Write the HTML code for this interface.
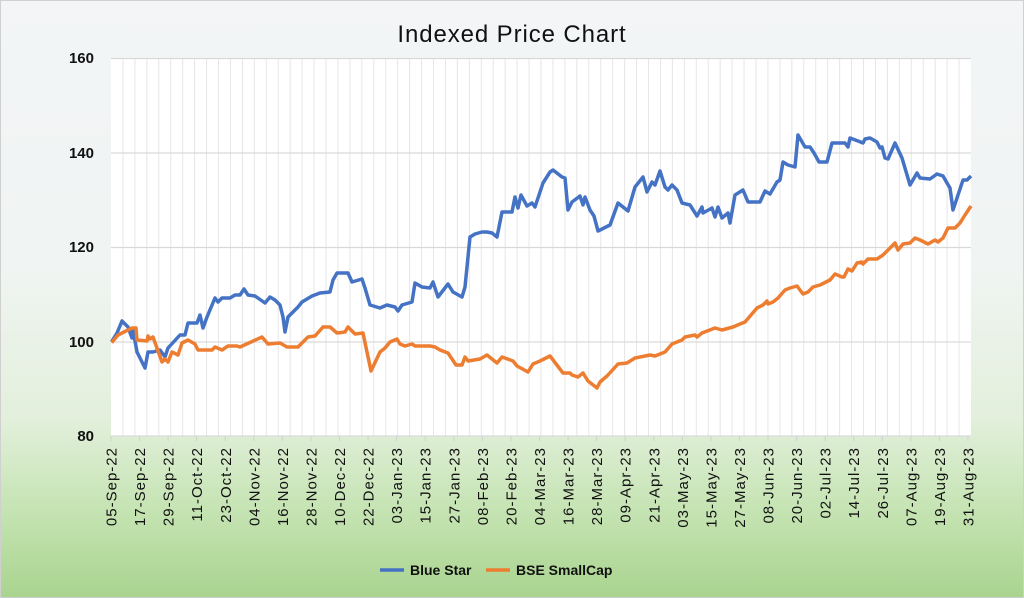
<!DOCTYPE html>
<html><head><meta charset="utf-8"><style>
html,body{margin:0;padding:0;}
body{width:1024px;height:598px;overflow:hidden;font-family:"Liberation Sans",sans-serif;}
.bg{position:absolute;left:0;top:0;width:1022px;height:596px;border:1px solid #d0d0d0;background:linear-gradient(#f3f5f7 0%,#f0f4f2 45%,#e3f0dc 70%,#c6e4b4 85%,#a9d48f 100%);}
</style></head><body><div class="bg"></div>
<svg width="1024" height="598" style="position:absolute;left:0;top:0" font-family="Liberation Sans, sans-serif">
<text x="512" y="42" font-size="24" letter-spacing="0.9" text-anchor="middle" fill="#111">Indexed Price Chart</text>
<rect x="111" y="58" width="860" height="378" fill="#fff"/>
<g id="vg" stroke="#e6e6e6" stroke-width="1"></g>
<g stroke="#d9d9d9" stroke-width="1.3">
<line x1="111" y1="58.5" x2="971" y2="58.5"/><line x1="111" y1="153" x2="971" y2="153"/><line x1="111" y1="247.5" x2="971" y2="247.5"/><line x1="111" y1="342" x2="971" y2="342"/><line x1="111" y1="436" x2="971" y2="436"/>
</g>
<g font-size="15" font-weight="bold" text-anchor="end" fill="#111"><text x="94" y="63">160</text><text x="94" y="158">140</text><text x="94" y="252">120</text><text x="94" y="347">100</text><text x="94" y="441">80</text></g>
<g id="xl" font-size="15" letter-spacing="1" fill="#111"></g>
<polyline fill="none" stroke="#4472c4" stroke-width="3.5" stroke-linejoin="round" points="111.7,341.7 117,333 122,321 128,327 132,338 133,330 137,352 145,368 148,352 153,352 160,350 165,357 168,348 180,335 185,335 188,323 197,323 200,315 203,328 207,317 215,298 218,302 222,298 230,298 235,295 240,295 244,289 248,295 255,296 265,303 270,297 275,300 280,305 283,317 285,332 288,317 298,307 302,302 312,296 320,293 330,292 333,280 337,273 348,273 352,282 362,279 365,288 370,305 380,308 387,305 395,307 398,311 402,305 412,302 415,283 422,287 430,288 433,282 438,297 448,284 453,292 462,297 465,287 470,237 475,234 482,232 487,232 492,233 497,237 502,212 512,212 515,197 518,208 521,195 527,206 532,203 535,207 543,183 550,172 553,170 562,177 565,178 568,210 572,202 580,196 583,205 585,197 590,210 594,216 598,231 610,225 618,203 628,211 635,187 643,177 647,192 652,182 655,185 660,171 665,187 668,190 672,185 677,190 682,203 690,205 697,216 702,207 703,213 712,208 715,217 718,207 722,218 728,213 730,223 735,195 743,190 748,202 760,202 765,191 770,194 777,182 780,180 783,162 788,165 795,167 798,135 805,147 810,147 814,153 819,162 827,162 832,143 845,143 848,147 850,138 858,141 863,143 865,139 870,138 877,142 880,148 882,147 885,158 888,159 895,143 902,158 910,185 917,173 920,178 930,179 937,174 943,176 947,183 950,188 953,210 963,180 967,180 971,176"/>
<polyline fill="none" stroke="#ed7d31" stroke-width="3.5" stroke-linejoin="round" points="111.7,342.7 118,335 132,328 136,328 137,340 147,341 148,336 150,339 153,337 162,362 165,359 168,362 172,352 178,355 182,343 188,340 195,344 198,350 212,350 215,347 222,350 228,346 237,346 240,347 262,337 268,344 280,343 287,347 298,347 308,337 315,336 323,327 330,327 337,333 345,332 348,327 355,334 363,333 371,371 380,352 385,348 390,342 397,339 400,344 405,346 412,344 415,346 430,346 435,347 440,350 448,353 456,365 462,365 465,357 468,361 480,359 487,355 497,363 502,357 513,361 517,366 528,372 533,364 540,361 550,356 563,373 567,373 570,373 572,375 578,377 583,373 588,381 597,388 600,382 607,376 618,364 627,363 635,358 650,355 655,356 665,352 672,344 682,340 685,337 695,335 697,337 702,333 715,328 722,330 733,327 740,324 745,322 757,308 763,305 767,301 768,304 773,302 778,298 785,290 790,288 797,286 803,294 808,292 813,287 820,285 830,280 835,274 842,277 844,277 848,269 852,271 857,263 862,262 863,264 868,259 877,259 883,255 888,250 895,243 898,250 903,244 910,243 915,238 920,240 928,244 935,240 938,242 943,238 948,228 955,228 960,223 965,215 971,206"/>
<line x1="380" y1="570" x2="404" y2="570" stroke="#4472c4" stroke-width="3.5"/>
<text x="410" y="575" font-size="14" font-weight="bold" fill="#111">Blue Star</text>
<line x1="486" y1="570" x2="510" y2="570" stroke="#ed7d31" stroke-width="3.5"/>
<text x="516" y="575" font-size="14" font-weight="bold" fill="#111">BSE SmallCap</text>
</svg>
<script>
var ns="http://www.w3.org/2000/svg",vg=document.getElementById("vg");
for(var i=1;i<72;i++){var x=111+i*860/72;var l=document.createElementNS(ns,"line");l.setAttribute("x1",x);l.setAttribute("x2",x);l.setAttribute("y1",58);l.setAttribute("y2",436);vg.appendChild(l);}
var labs=["05-Sep-22","17-Sep-22","29-Sep-22","11-Oct-22","23-Oct-22","04-Nov-22","16-Nov-22","28-Nov-22","10-Dec-22","22-Dec-22","03-Jan-23","15-Jan-23","27-Jan-23","08-Feb-23","20-Feb-23","04-Mar-23","16-Mar-23","28-Mar-23","09-Apr-23","21-Apr-23","03-May-23","15-May-23","27-May-23","08-Jun-23","20-Jun-23","02-Jul-23","14-Jul-23","26-Jul-23","07-Aug-23","19-Aug-23","31-Aug-23"];
var xl=document.getElementById("xl");
labs.forEach(function(s,i){var x=111+i*857/30;var t=document.createElementNS(ns,"text");t.setAttribute("transform","translate("+(x+5.5)+",447) rotate(-90)");t.setAttribute("text-anchor","end");t.textContent=s;xl.appendChild(t);
var k=document.createElementNS(ns,"line");k.setAttribute("x1",x);k.setAttribute("x2",x);k.setAttribute("y1",436);k.setAttribute("y2",441);k.setAttribute("stroke","#d0d0d0");xl.appendChild(k);});
</script>
</body></html>
